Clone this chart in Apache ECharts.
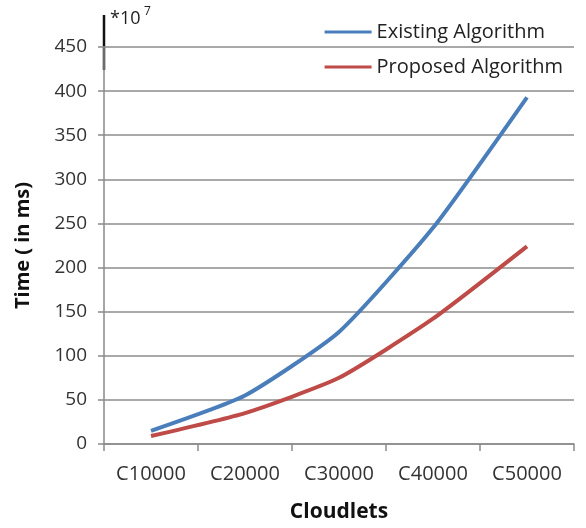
<!DOCTYPE html>
<html>
<head>
<meta charset="utf-8">
<script src="https://cdn.jsdelivr.net/npm/echarts@6/dist/echarts.min.js"></script>
<style>
  html, body { margin: 0; padding: 0; background: #fff; }
  #chart { width: 586px; height: 528px; }
</style>
</head>
<body>
<div id="chart"></div>
<script>
// Cloudlet batch sizes on the x axis
const categories = ['C10000', 'C20000', 'C30000', 'C40000', 'C50000'];
// Execution time (×10^7 ms) for each algorithm
const existingTimes = [15, 55, 127, 245, 393];
const proposedTimes = [9, 35, 75, 142, 224];
const yTicks = { min: 0, max: 450, interval: 50 };

const font = '"Open Sans", "Liberation Sans", sans-serif';
const chart = echarts.init(document.getElementById('chart'), null, { renderer: 'canvas' });

chart.setOption({
  animation: false,
  backgroundColor: '#fff',
  grid: { left: 104, right: 12, top: 47, bottom: 84 },
  legend: {
    right: 18, top: 17, orient: 'vertical', itemGap: 15,
    itemWidth: 47, itemHeight: 3, icon: 'rect',
    textStyle: { fontFamily: font, fontSize: 20, color: '#222', padding: [0, 0, 0, 0] },
    data: ['Existing Algorithm', 'Proposed Algorithm']
  },
  xAxis: {
    type: 'category', data: categories, boundaryGap: true,
    name: 'Cloudlets', nameLocation: 'middle', nameGap: 58,
    nameTextStyle: { fontFamily: font, fontSize: 21, fontWeight: 'bold', color: '#111' },
    axisLine: { lineStyle: { color: '#8a8a8a', width: 1.5 } },
    axisTick: { show: true, length: 7, lineStyle: { color: '#8a8a8a', width: 1.5 } },
    axisLabel: { fontFamily: font, fontSize: 20, color: '#333', margin: 20 }
  },
  yAxis: {
    type: 'value', min: yTicks.min, max: yTicks.max, interval: yTicks.interval,
    name: 'Time ( in ms)', nameLocation: 'middle', nameGap: 71, nameRotate: 90,
    nameTextStyle: { fontFamily: font, fontSize: 20, fontWeight: 'bold', color: '#111' },
    axisLine: { show: true, lineStyle: { color: '#8a8a8a', width: 1.5 } },
    axisTick: { show: true, length: 6, lineStyle: { color: '#8a8a8a', width: 1.5 } },
    axisLabel: { fontFamily: font, fontSize: 19, color: '#333', margin: 17 },
    splitLine: { lineStyle: { color: '#8c8c8c', width: 1.5 } }
  },
  series: [
    {
      name: 'Existing Algorithm', type: 'line', data: existingTimes,
      smooth: 0.18, showSymbol: false, symbol: 'none',
      color: '#4A7EBB', lineStyle: { width: 4, color: '#4A7EBB' }
    },
    {
      name: 'Proposed Algorithm', type: 'line', data: proposedTimes,
      smooth: 0.18, showSymbol: false, symbol: 'none',
      color: '#BE4B48', lineStyle: { width: 4, color: '#BE4B48' }
    }
  ],
  graphic: [
    {
      type: 'line', shape: { x1: 104, y1: 15, x2: 104, y2: 70 },
      style: { stroke: '#111', lineWidth: 2.5 }
    },
    {
      type: 'text', left: 110, top: 10,
      style: { text: '*10', fontFamily: font, fontSize: 18, fill: '#222' }
    },
    {
      type: 'text', left: 144, top: 6,
      style: { text: '7', fontFamily: font, fontSize: 12, fill: '#222' }
    }
  ]
});
</script>
</body>
</html>
